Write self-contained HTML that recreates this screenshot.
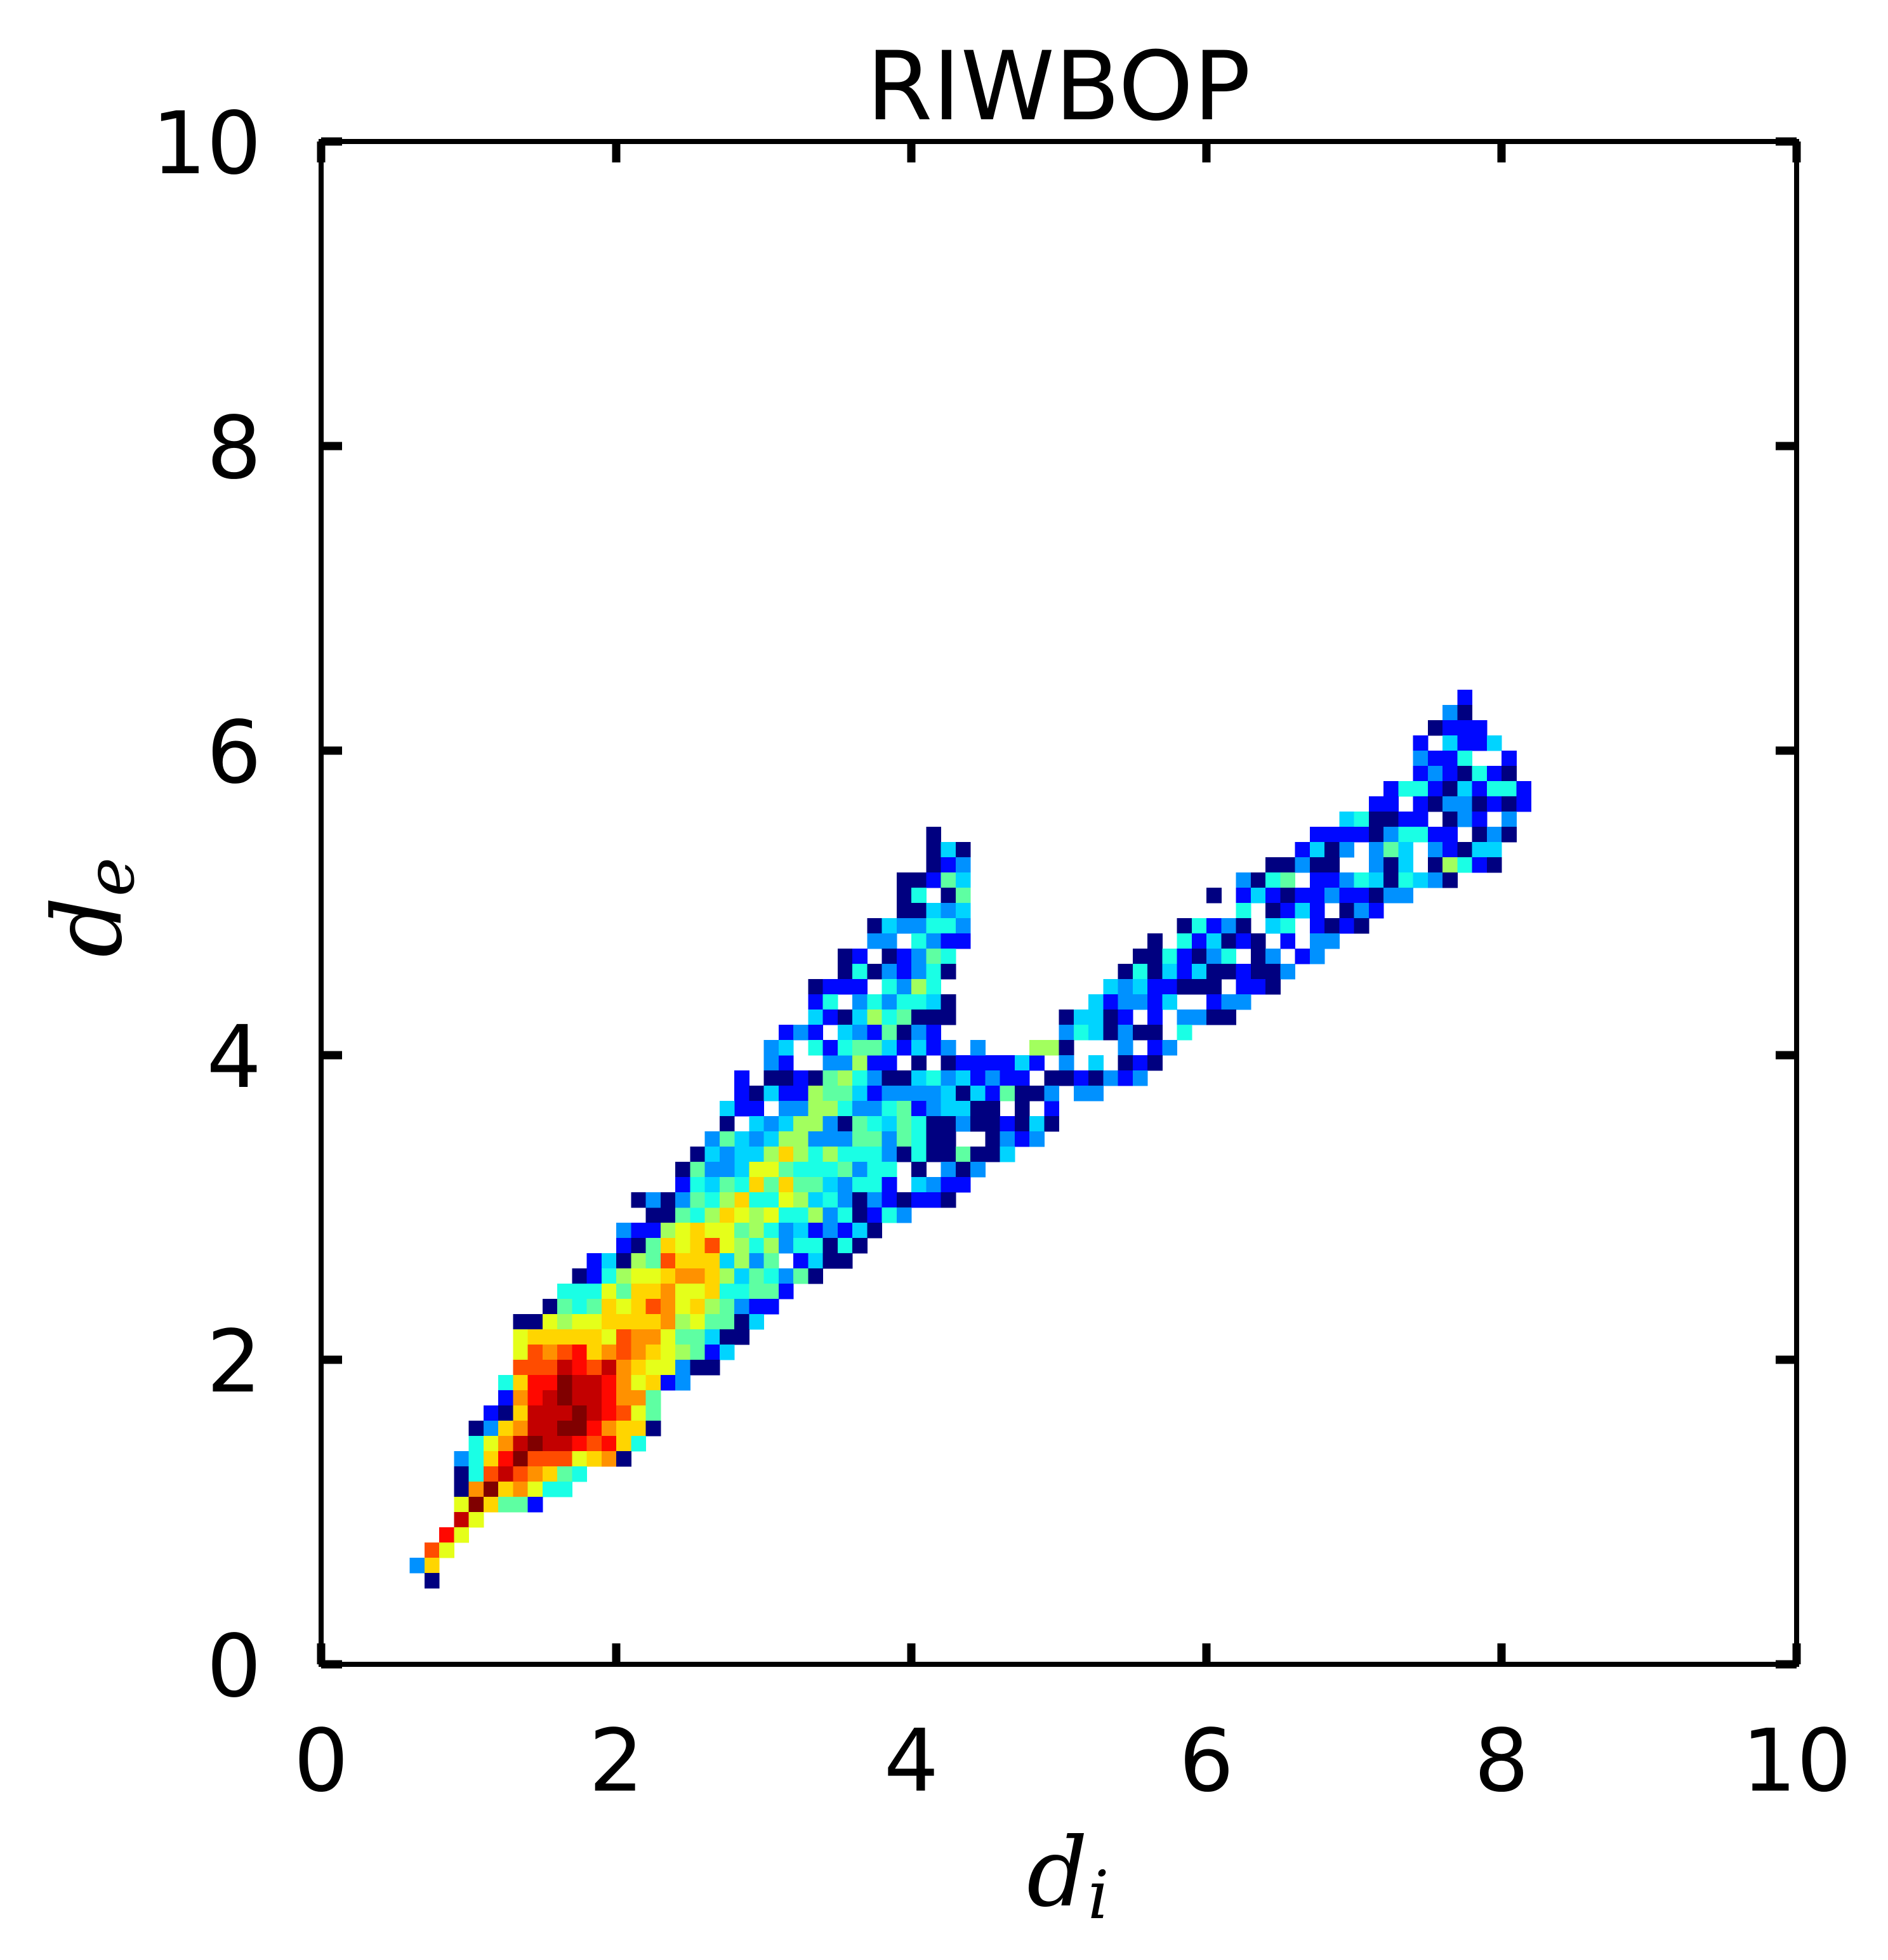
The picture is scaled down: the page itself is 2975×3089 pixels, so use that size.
<!DOCTYPE html>
<html><head><meta charset="utf-8"><style>
html,body{margin:0;padding:0;background:#fff;}
svg{display:block;}
.tick{font-family:"DejaVu Sans","Liberation Sans",sans-serif;font-size:136px;fill:#000;}
</style></head><body>
<svg id="chart" xmlns="http://www.w3.org/2000/svg" width="2975" height="3089" viewBox="0 0 2975 3089">
<rect x="0" y="0" width="2975" height="3089" fill="#fff"/>
<text x="1668" y="188" text-anchor="middle" font-family="DejaVu Sans, Liberation Sans, sans-serif" font-size="150">RIWBOP</text>
<g id="cells" shape-rendering="crispEdges"></g>
<g id="axes"></g>
<text x="1618" y="3003" font-family="DejaVu Serif, Liberation Serif, serif" font-style="italic" font-size="150">d<tspan font-size="105" dy="20">i</tspan></text>
<text transform="translate(190,1430) rotate(-90)" text-anchor="middle" font-family="DejaVu Serif, Liberation Serif, serif" font-style="italic" font-size="150">d<tspan font-size="105" dy="20">e</tspan></text>
</svg>
<script>
// Axis ranges and ticks
const xTicks = [0, 2, 4, 6, 8, 10];
const yTicks = [0, 2, 4, 6, 8, 10];
const tickLabels = ["0", "2", "4", "6", "8", "10"];
const binSize = 0.1;
// Heatmap rows: de bin index, starting di bin index, coded density (0-f, '.' = empty)
const rowDe = [29,28,27,26,25,24,23,22,21,20,19,18,17,16,15,14,13,12,11,10,9,8,7,6,5,
  39,38,37,36,35,34,33,32,31,30,29,28,27,26,25,24,23,
  54,53,52,51,50,49,48,47,46,45,44,43,42,41,40,
  52,51,50,49,48,47,46,45,44,43,42,41,40,39,38,37,
  63,62,61,60,59,58,57,56,55,54,53,52,51,50,49,48,47,46,
  36,35,34,33,32,31,30];
const rowStart = [6,6,6,6,6,6,6,6,6,6,6,6,6,6,6,6,6,6,6,6,6,6,6,6,6,
  28,28,28,28,28,28,28,28,28,28,28,28,28,28,28,30,30,
  28,28,28,28,28,28,28,28,28,28,28,28,28,28,28,
  49,49,49,49,49,49,49,49,49,49,49,49,49,49,49,49,
  66,66,66,66,66,66,66,66,66,66,66,66,66,66,66,66,66,66,
  21,21,21,21,21,21,21];
const rowValues = [
 "................00768a98",
 "..............42289a9978",
 "..............207a9ac986",
 "............25087caaa584",
 "...........026899abba857",
 "..........66697aab99a667",
 ".........0767a9acb9a8742",
 ".......009899aaaab897705",
 ".......9aaaaa9cbb977500",
 ".......9cbcdabcba98725",
 ".......cccedceba99400",
 "......6addfeedb9a24",
 "......2bdefeedbb7",
 ".....20aeeefedc97",
 "....04abeeffdbaa0",
 "....69befeedcda6",
 "...46adfccc9ab0",
 "...06cecba76",
 "...0bfab966",
 "...9fa772",
 "...e9",
 "..d9",
 ".c9",
 "4a",
 ".0",
 "..42..44822.0.0222252.",
 "2.002078640056452422.0",
 "2052287752444450527004",
 "22.448864467245500.0.2",
 ".545884076576004002050",
 "545884447747600..0424.",
 "558a868666406007005...",
 "59976667466.0.404.....",
 "6a7a7754662.5422......",
 "a66985640420220",
 "989668460264",
 "7864524250",
 "868466060",
 "847.2500",
 "576470",
 "72",
 "2",
 ".............0",
 ".............050",
 ".............024",
 "...........00275",
 "...........06.07",
 "...........00545",
 ".........0544664",
 ".........44.6422",
 ".......02.02476",
 ".......06042460",
 ".....0222.6486",
 ".....26.4646650",
 ".....5205867000",
 "...242.5427042",
 "..45.6267752524.4...88",
 "...............00",
 ".............4067",
 "...........0.2520",
 ".............6.02",
 ".........06240.56",
 ".......0.625020.2",
 "......0062046.04.",
 ".....060525002004",
 "....54522000.220.",
 "...524425..244",
 ".05502.2.4400",
 ".4650400.6",
 "80...4.24",
 ".4.5.020",
 "0020424",
 "4.44",
 "...........2",
 "..........40",
 ".........0222",
 "........2.5225",
 "........4226..2",
 "........2420620",
 "......2662052662",
 ".....22.20440202",
 "...560022.042.4",
 ".2222046622.040",
 "2504.475.42055",
 "400..405.08620",
 ".2246506540",
 "22422044",
 "52.042",
 ".2020",
 ".44",
 "24",
 "......5",
 "......0",
 ".....47",
 "....054",
 "...0744",
 "...2657",
 "0404768"
];

const NS = "http://www.w3.org/2000/svg";
const X0 = 506, X1 = 2831, Y0 = 2623, Y1 = 223;
function xScale(v){ return X0 + (v/10)*(X1-X0); }
function yScale(v){ return Y0 - (v/10)*(Y0-Y1); }
function jet(v){
  function c(x){ return Math.max(0, Math.min(1, x)); }
  const r = c(Math.min(4*v-1.5, -4*v+4.5));
  const g = c(Math.min(4*v-0.5, -4*v+3.5));
  const b = c(Math.min(4*v+0.5, -4*v+2.5));
  return "rgb(" + Math.round(r*255) + "," + Math.round(g*255) + "," + Math.round(b*255) + ")";
}
const cellsG = document.getElementById("cells");
for (let r = 0; r < rowValues.length; r++) {
  const s = rowValues[r];
  for (let k = 0; k < s.length; k++) {
    const ch = s[k];
    if (ch === ".") continue;
    const v = parseInt(ch, 16) / 15;
    const di = (rowStart[r] + k) * binSize;
    const de = rowDe[r] * binSize;
    const x = xScale(di), x2 = xScale(di + binSize);
    const y = yScale(de + binSize), y2 = yScale(de);
    const rect = document.createElementNS(NS, "rect");
    rect.setAttribute("x", x.toFixed(2));
    rect.setAttribute("y", y.toFixed(2));
    rect.setAttribute("width", (x2 - x + 0.6).toFixed(2));
    rect.setAttribute("height", (y2 - y + 0.6).toFixed(2));
    rect.setAttribute("fill", jet(v));
    
    
    cellsG.appendChild(rect);
  }
}
const axesG = document.getElementById("axes");
const frame = document.createElementNS(NS, "rect");
frame.setAttribute("x", X0); frame.setAttribute("y", Y1);
frame.setAttribute("width", X1 - X0); frame.setAttribute("height", Y0 - Y1);
frame.setAttribute("fill", "none"); frame.setAttribute("stroke", "#000"); frame.setAttribute("stroke-width", "8");


axesG.appendChild(frame);
function line(x1, y1, x2, y2, name) {
  const l = document.createElementNS(NS, "line");
  l.setAttribute("x1", x1); l.setAttribute("y1", y1); l.setAttribute("x2", x2); l.setAttribute("y2", y2);
  l.setAttribute("stroke", "#000"); l.setAttribute("stroke-width", "13");
  
  
  axesG.appendChild(l);
}
const TL = 33;
xTicks.forEach(function(t, i){
  const x = xScale(t);
  line(x, Y0, x, Y0 - TL, "x-tick");
  line(x, Y1, x, Y1 + TL, "x-tick-top");
  const tx = document.createElementNS(NS, "text");
  tx.setAttribute("x", x); tx.setAttribute("y", 2822);
  tx.setAttribute("text-anchor", "middle"); tx.setAttribute("class", "tick");
  tx.textContent = tickLabels[i];
  
  
  axesG.appendChild(tx);
});
yTicks.forEach(function(t, i){
  const y = yScale(t);
  line(X0, y, X0 + TL, y, "y-tick");
  line(X1, y, X1 - TL, y, "y-tick-right");
  const tx = document.createElementNS(NS, "text");
  tx.setAttribute("x", 412); tx.setAttribute("y", y + 50);
  tx.setAttribute("text-anchor", "end"); tx.setAttribute("class", "tick");
  tx.textContent = tickLabels[i];
  
  
  axesG.appendChild(tx);
});
</script>
</body></html>
